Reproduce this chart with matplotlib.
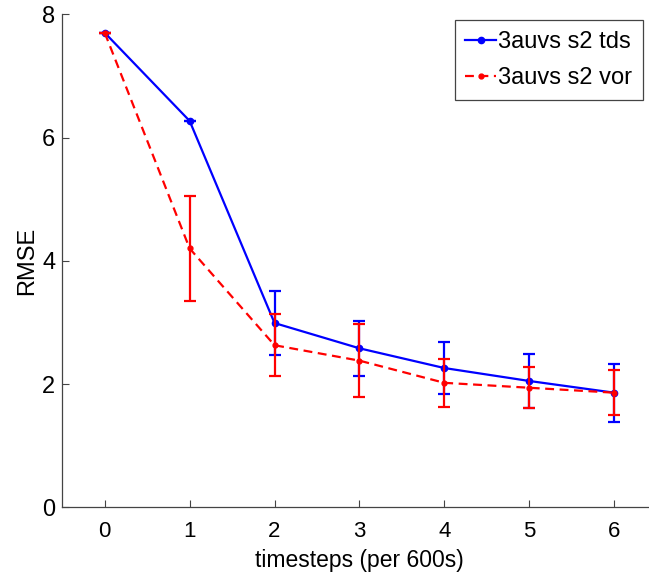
import matplotlib
matplotlib.use("Agg")
import matplotlib.pyplot as plt
from matplotlib.lines import Line2D

plt.rcParams['font.family'] = ['Liberation Sans', 'DejaVu Sans']

timesteps = [0, 1, 2, 3, 4, 5, 6]

tds_mean = [7.70, 6.27, 2.99, 2.58, 2.26, 2.05, 1.86]
tds_err = [0.0, 0.0, 0.52, 0.45, 0.42, 0.44, 0.47]

vor_mean = [7.70, 4.20, 2.63, 2.38, 2.02, 1.94, 1.86]
vor_err = [0.0, 0.845, 0.50, 0.59, 0.39, 0.33, 0.37]

series_labels = ['3auvs s2 tds', '3auvs s2 vor']
x_ticks = [0, 1, 2, 3, 4, 5, 6]
y_ticks = [0, 2, 4, 6, 8]

fig = plt.figure(figsize=(6.49, 5.77), dpi=100)
ax = fig.add_axes([0.096, 0.1208, 0.9156, 0.8544])

blue_style = dict(color='#0000ff', linestyle='-', linewidth=1.6,
                  marker='o', markersize=4.5)
red_style = dict(color='#ff0000', linestyle='--', linewidth=1.6,
                 marker='o', markersize=3.5, dashes=(4, 2.5))

ax.errorbar(timesteps, tds_mean, yerr=tds_err, capsize=4, capthick=1.6,
            elinewidth=1.6, zorder=3, **blue_style)
ax.errorbar(timesteps, vor_mean, yerr=vor_err, capsize=4, capthick=1.6,
            elinewidth=1.6, zorder=4, **red_style)

ax.set_xlim(-0.5, 6.5)
ax.set_ylim(0, 8)
ax.set_xticks(x_ticks)
ax.set_yticks(y_ticks)
ax.tick_params(direction='in', length=5, width=0.8, color='#444444')
ax.tick_params(axis='y', labelsize=17, pad=5)
ax.tick_params(axis='x', labelsize=16, pad=10)

for side in ('top', 'right'):
    ax.spines[side].set_visible(False)
for side in ('left', 'bottom'):
    ax.spines[side].set_color('#444444')
    ax.spines[side].set_linewidth(0.9)

ax.set_xlabel('timesteps (per 600s)', fontsize=16.5, labelpad=5)
ax.set_ylabel('RMSE', fontsize=17, labelpad=3)

handles = [Line2D([], [], **blue_style), Line2D([], [], **red_style)]
leg = ax.legend(handles, series_labels, loc='upper right',
                bbox_to_anchor=(0.977, 0.988),
                fontsize=17, handlelength=1.3, handletextpad=0.1,
                borderaxespad=0, fancybox=False, framealpha=1,
                edgecolor='#444444', borderpad=0.45, labelspacing=0.6)
leg.get_frame().set_linewidth(0.9)

fig.savefig('out.png', dpi=100)
